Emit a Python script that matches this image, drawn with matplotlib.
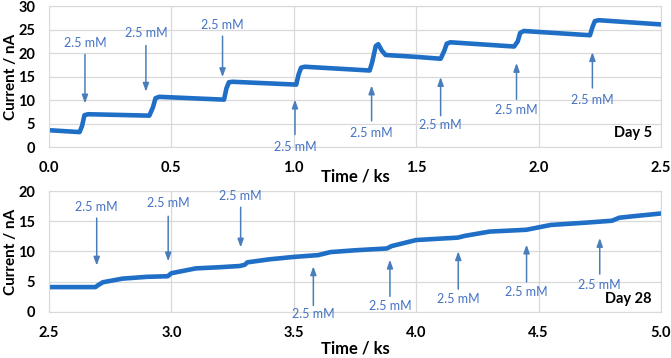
import matplotlib
matplotlib.use("Agg")
import matplotlib.pyplot as plt

plt.rcParams['font.family'] = ['Lato', 'DejaVu Sans']

# ---- data ----
top_time = [0.0, 0.125, 0.135, 0.145, 0.16, 0.41, 0.425, 0.435, 0.45, 0.715, 0.725, 0.735, 0.75,
            1.01, 1.02, 1.03, 1.045, 1.31, 1.32, 1.335, 1.345, 1.36, 1.375, 1.5, 1.6, 1.615, 1.625,
            1.64, 1.90, 1.915, 1.925, 1.94, 2.21, 2.22, 2.23, 2.245, 2.5]
top_current = [3.6, 3.2, 4.5, 6.8, 7.0, 6.7, 8.5, 10.4, 10.7, 10.1, 12.5, 13.8, 13.9,
               13.3, 15.5, 16.9, 17.1, 16.3, 18.0, 21.5, 21.9, 20.5, 19.6, 19.2, 18.8, 20.5, 22.0,
               22.3, 21.4, 22.5, 24.3, 24.7, 23.8, 25.5, 26.8, 27.0, 26.1]

bot_time = [2.5, 2.69, 2.70, 2.72, 2.8, 2.9, 2.985, 3.0, 3.05, 3.1, 3.2, 3.28, 3.3, 3.31, 3.4,
            3.5, 3.6, 3.65, 3.75, 3.88, 3.9, 4.0, 4.17, 4.2, 4.3, 4.45, 4.5, 4.55, 4.7, 4.8,
            4.83, 4.9, 5.0]
bot_current = [4.1, 4.1, 4.4, 4.9, 5.5, 5.8, 5.9, 6.4, 6.8, 7.2, 7.4, 7.6, 7.8, 8.2, 8.7,
               9.1, 9.4, 9.9, 10.2, 10.5, 10.9, 11.9, 12.3, 12.6, 13.3, 13.6, 14.0, 14.4, 14.8, 15.1,
               15.6, 15.9, 16.3]

# annotations: (x, text_y, tail_y, tip_y)
top_arrow_x = [0.147, 0.396, 0.709, 1.005, 1.318, 1.60, 1.91, 2.22]
top_text_y = [22.1, 24.3, 26.0, 0.0, 3.0, 4.7, 7.9, 10.1]
top_tail_y = [20.3, 22.2, 24.2, 2.1, 5.0, 6.1, 9.6, 12.0]
top_tip_y = [8.7, 11.2, 14.3, 10.7, 13.7, 15.5, 18.5, 20.8]

bot_arrow_x = [2.695, 2.987, 3.283, 3.58, 3.893, 4.172, 4.451, 4.75]
bot_text_y = [17.3, 18.0, 19.2, -0.3, 0.95, 2.05, 3.3, 4.5]
bot_tail_y = [16.0, 16.3, 17.8, 0.6, 2.1, 3.3, 4.5, 5.8]
bot_tip_y = [7.2, 7.9, 10.2, 8.0, 9.1, 10.5, 11.6, 12.7]

annot_label = "2.5 mM"
day_labels = ["Day 5", "Day 28"]

LINE = "#1F6FC6"
ARROW = "#4A7EBB"
TEXT = "#4472C4"
GRID = "#D9D9D9"

fig = plt.figure(figsize=(6.71, 3.58), dpi=100)
ax1 = fig.add_axes([0.073, 0.589, 0.912, 0.394])
ax2 = fig.add_axes([0.073, 0.129, 0.912, 0.337])


def style(ax, xlim, ylim, xticks, yticks):
    ax.set_xlim(*xlim)
    ax.set_ylim(*ylim)
    ax.set_xticks(xticks)
    ax.set_yticks(yticks)
    ax.set_xticklabels([f"{v:.1f}" for v in xticks], fontweight="bold", fontsize=10.5)
    ax.set_yticklabels([f"{v:g}" for v in yticks], fontweight="bold", fontsize=10.5)
    ax.grid(True, color=GRID, lw=0.9)
    ax.set_axisbelow(True)
    for s in ax.spines.values():
        s.set_color(GRID)
    ax.tick_params(length=0)
    ax.tick_params(axis="x", pad=10)
    ax.tick_params(axis="y", pad=10)
    ax.set_xlabel("Time / ks", fontweight="bold", fontsize=12)
    ax.set_ylabel("Current / nA", fontweight="bold", fontsize=11)
    ax.yaxis.set_label_coords(-0.051, 0.5)


style(ax1, (0, 2.5), (0, 30), [0.0, 0.5, 1.0, 1.5, 2.0, 2.5], [0, 5, 10, 15, 20, 25, 30])
style(ax2, (2.5, 5.0), (0, 20), [2.5, 3.0, 3.5, 4.0, 4.5, 5.0], [0, 5, 10, 15, 20])
ax1.xaxis.set_label_coords(0.5, -0.15)
ax2.xaxis.set_label_coords(0.5, -0.235)

ax1.plot(top_time, top_current, color=LINE, lw=3.3, solid_capstyle="round", solid_joinstyle="round")
ax2.plot(bot_time, bot_current, color=LINE, lw=3.3, solid_capstyle="round", solid_joinstyle="round")


def arrows(ax, xs, ty, tails, tips):
    for x, t, a, b in zip(xs, ty, tails, tips):
        ax.annotate("", xy=(x, b), xytext=(x, a),
                    arrowprops=dict(arrowstyle="-|>,head_length=0.5,head_width=0.18",
                                    color=ARROW, lw=1.1), annotation_clip=False)
        ax.text(x, t, annot_label, color=TEXT, fontsize=9, ha="center", va="center",
                clip_on=False)


arrows(ax1, top_arrow_x, top_text_y, top_tail_y, top_tip_y)
arrows(ax2, bot_arrow_x, bot_text_y, bot_tail_y, bot_tip_y)

ax1.text(0.985, 0.05, day_labels[0], transform=ax1.transAxes, ha="right", va="bottom",
         fontweight="bold", fontsize=10.5)
ax2.text(0.985, 0.05, day_labels[1], transform=ax2.transAxes, ha="right", va="bottom",
         fontweight="bold", fontsize=10.5)

fig.savefig("out.png", dpi=100)
